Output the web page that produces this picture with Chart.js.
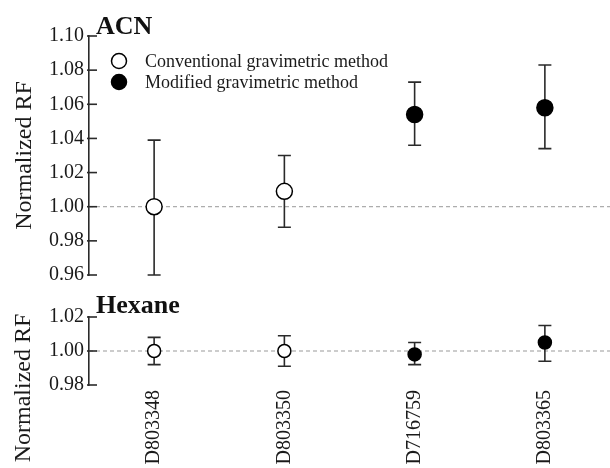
<!DOCTYPE html>
<html>
<head>
<meta charset="utf-8">
<script src="https://cdn.jsdelivr.net/npm/chart.js@4.4.0/dist/chart.umd.min.js"></script>
<style>
body { margin: 0; background: #fff; overflow: hidden; }
#wrap { position: relative; width: 610px; height: 468px; }
canvas { position: absolute; left: 0; }
</style>
</head>
<body>
<div id="wrap">
  <canvas id="acn" width="610" height="292" style="top:0"></canvas>
  <canvas id="hex" width="610" height="178" style="top:290px"></canvas>
</div>
<script>
var categories = ['D803348', 'D803350', 'D716759', 'D803365'];
var methodNames = ['Conventional gravimetric method', 'Modified gravimetric method'];
var methodOf = [0, 0, 1, 1];

var acnMean = [1.000, 1.009, 1.054, 1.058];
var acnLow = [0.960, 0.988, 1.036, 1.034];
var acnHigh = [1.039, 1.030, 1.073, 1.083];
var acnTicks = [0.96, 0.98, 1.00, 1.02, 1.04, 1.06, 1.08, 1.10];

var hexMean = [1.000, 1.000, 0.998, 1.005];
var hexLow = [0.992, 0.991, 0.992, 0.994];
var hexHigh = [1.008, 1.009, 1.005, 1.015];
var hexTicks = [0.98, 1.00, 1.02];

var refLine = 1.00;
var yTitle = 'Normalized RF';

var SERIF = '"Liberation Serif", "Times New Roman", serif';
var INK = '#1a1a1a';

function splitByMethod(values, k) {
    return values.map(function (v, i) { return methodOf[i] === k ? v : null; });
}

function makeDatasets(mean, radius) {
    return methodNames.map(function (name, k) {
        return {
            label: name,
            data: splitByMethod(mean, k),
            showLine: false,
            pointRadius: radius,
            pointHoverRadius: radius,
            pointBorderWidth: 1.5,
            pointBorderColor: '#000',
            pointBackgroundColor: k === 0 ? '#fff' : '#000'
        };
    });
}

// dashed reference line, inward ticks, error bars, panel label, legend
var panelPlugin = {
    id: 'panel',
    beforeDatasetsDraw: function (chart, args, opts) {
        var ctx = chart.ctx, a = chart.chartArea;
        var x = chart.scales.x, y = chart.scales.y;
        ctx.save();

        ctx.strokeStyle = '#999';
        ctx.lineWidth = 1;
        ctx.setLineDash([4, 3]);
        var yr = y.getPixelForValue(refLine);
        ctx.beginPath();
        ctx.moveTo(a.left, yr);
        ctx.lineTo(a.right, yr);
        ctx.stroke();
        ctx.setLineDash([]);

        ctx.strokeStyle = '#2a2a2a';
        ctx.lineWidth = 1.6;
        y.ticks.forEach(function (t) {
            var py = y.getPixelForValue(t.value);
            ctx.beginPath();
            ctx.moveTo(a.left - 2, py);
            ctx.lineTo(a.left + 8, py);
            ctx.stroke();
        });

        opts.low.forEach(function (lo, i) {
            var px = x.getPixelForValue(i);
            var y1 = y.getPixelForValue(lo);
            var y2 = y.getPixelForValue(opts.high[i]);
            ctx.beginPath();
            ctx.moveTo(px, y1); ctx.lineTo(px, y2);
            ctx.moveTo(px - opts.cap, y1); ctx.lineTo(px + opts.cap, y1);
            ctx.moveTo(px - opts.cap, y2); ctx.lineTo(px + opts.cap, y2);
            ctx.stroke();
        });

        ctx.fillStyle = '#111';
        ctx.font = 'bold 26px ' + SERIF;
        ctx.textAlign = 'left';
        ctx.textBaseline = 'alphabetic';
        ctx.fillText(opts.title, a.left + 7, opts.titleY);

        if (opts.yTitleY) {
            ctx.save();
            ctx.translate(24, opts.yTitleY);
            ctx.rotate(-Math.PI / 2);
            ctx.font = '24px ' + SERIF;
            ctx.fillStyle = INK;
            ctx.textAlign = 'center';
            ctx.textBaseline = 'middle';
            ctx.fillText(yTitle, 0, 0);
            ctx.restore();
        }
        ctx.restore();
    },
    afterDraw: function (chart, args, opts) {
        if (!opts.legend) return;
        var ctx = chart.ctx;
        ctx.save();
        chart.data.datasets.forEach(function (ds, k) {
            var cy = 61 + k * 21;
            ctx.beginPath();
            ctx.arc(119, cy, 7.5, 0, Math.PI * 2);
            ctx.fillStyle = ds.pointBackgroundColor;
            ctx.fill();
            ctx.lineWidth = 1.5;
            ctx.strokeStyle = ds.pointBorderColor;
            ctx.stroke();
            ctx.fillStyle = INK;
            ctx.font = '18px ' + SERIF;
            ctx.textAlign = 'left';
            ctx.textBaseline = 'middle';
            ctx.fillText(ds.label, 145, cy + 1);
        });
        ctx.restore();
    }
};

function yAxis(ticks, showTitle) {
    return {
        min: ticks[0],
        max: ticks[ticks.length - 1],
        afterFit: function (s) { s.width = 89; },
        afterBuildTicks: function (s) {
            s.ticks = ticks.map(function (v) { return { value: v }; });
        },
        grid: { display: true, drawOnChartArea: false, drawTicks: false },
        border: { display: true, color: '#2a2a2a', width: 1.6 },
        ticks: {
            padding: 5,
            color: INK,
            font: { family: SERIF, size: 20 },
            callback: function (v) { return Number(v).toFixed(2); }
        },
        title: {
            display: showTitle,
            text: yTitle,
            color: INK,
            font: { family: SERIF, size: 24 },
            padding: { top: 10, bottom: 0 }
        }
    };
}

var acnChart = new Chart(document.getElementById('acn').getContext('2d'), {
    type: 'line',
    data: { labels: categories, datasets: makeDatasets(acnMean, 8) },
    options: {
        responsive: false,
        animation: false,
        layout: { autoPadding: false, padding: { top: 36, bottom: 17, left: 0, right: 0 } },
        scales: {
            x: { display: false, offset: true },
            y: yAxis(acnTicks, true)
        },
        plugins: {
            legend: { display: false },
            tooltip: { enabled: false },
            panel: { low: acnLow, high: acnHigh, cap: 6.5, title: 'ACN', titleY: 34, legend: true }
        }
    },
    plugins: [panelPlugin]
});

var hexChart = new Chart(document.getElementById('hex').getContext('2d'), {
    type: 'line',
    data: { labels: categories, datasets: makeDatasets(hexMean, 6.5) },
    options: {
        responsive: false,
        animation: false,
        layout: { autoPadding: false, padding: { top: 27, bottom: 0, left: 0, right: 0 } },
        scales: {
            x: {
                offset: true,
                afterFit: function (s) { s.height = 83; },
                grid: { display: false, drawTicks: false },
                border: { display: false },
                ticks: {
                    autoSkip: false,
                    minRotation: 90,
                    maxRotation: 90,
                    padding: 5,
                    color: INK,
                    font: { family: SERIF, size: 20 }
                }
            },
            y: yAxis(hexTicks, false)
        },
        plugins: {
            legend: { display: false },
            tooltip: { enabled: false },
            panel: { low: hexLow, high: hexHigh, cap: 6.5, title: 'Hexane', titleY: 23, yTitleY: 98, legend: false }
        }
    },
    plugins: [panelPlugin]
});
</script>
</body>
</html>
